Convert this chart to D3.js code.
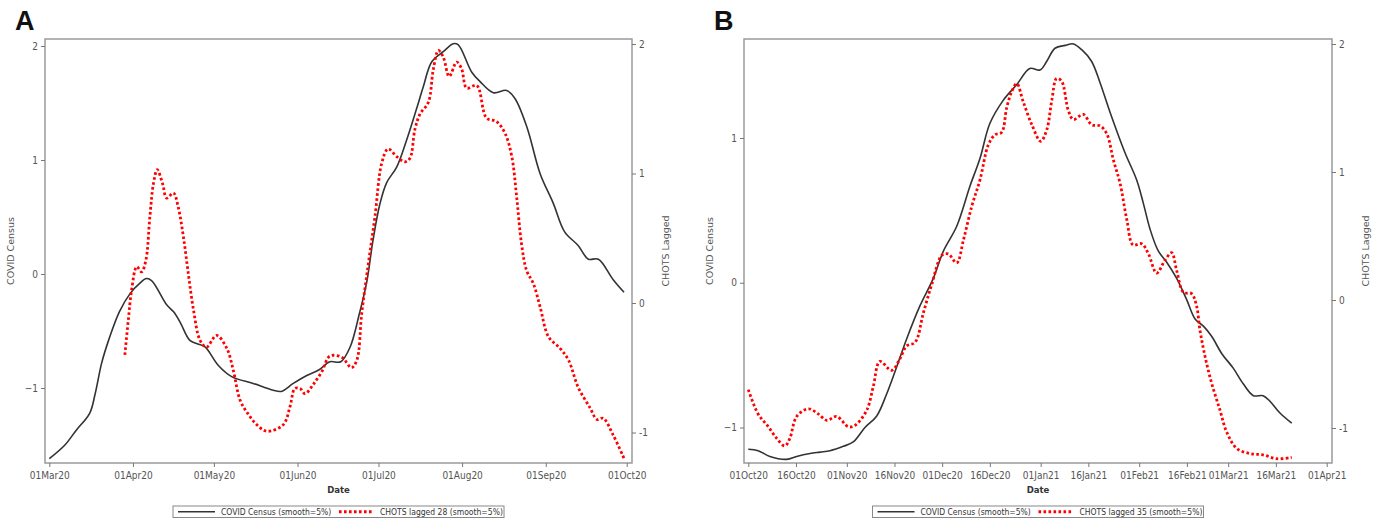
<!DOCTYPE html>
<html>
<head>
<meta charset="UTF-8" />
<title>COVID Census vs CHOTS</title>
<style>
  body { margin: 0; background: #fff; }
  svg { display: block; }
  .tick text { font-family: "Liberation Sans Narrow", "DejaVu Sans Condensed", sans-serif; font-size: 10px; fill: #555; }
</style>
</head>
<body>
<svg width="1381" height="519"></svg>

<script src="https://cdn.jsdelivr.net/npm/d3@7"></script>
<script>
  // Panel A: day offsets from 01Mar20
  const censusA_day = [0, 5.8, 10, 15, 17, 19.4, 22, 26, 30, 33.6, 36, 38, 43.5, 46, 48.4, 52, 54.6, 57.7, 62.6, 67.6, 75.6, 83, 86, 90.4, 95.4, 100, 104, 108, 111.5, 115, 117.6, 120, 122.6, 125, 128.8, 132.5, 136, 138.6, 141.7, 146, 149.7, 151.6, 156.6, 159.6, 164.6, 169.5, 172.6, 177, 181.9, 186.8, 191, 196, 199.8, 203.5, 209, 213];
  const censusA_val = [-1.62, -1.50, -1.37, -1.22, -1.05, -0.78, -0.58, -0.33, -0.17, -0.08, -0.04, -0.06, -0.27, -0.33, -0.42, -0.58, -0.61, -0.64, -0.80, -0.90, -0.96, -1.02, -1.03, -0.96, -0.89, -0.84, -0.77, -0.77, -0.64, -0.34, -0.08, 0.30, 0.62, 0.80, 0.94, 1.18, 1.44, 1.64, 1.86, 1.95, 2.02, 2.01, 1.77, 1.69, 1.59, 1.61, 1.54, 1.29, 0.88, 0.62, 0.37, 0.25, 0.13, 0.13, -0.05, -0.16];

  const chotsA_day = [28, 29.3, 30.5, 32.4, 34.2, 35.8, 37.3, 38.6, 40, 42, 43.5, 46, 47.8, 49.7, 51.5, 53.4, 55.9, 58.3, 62, 65.8, 68.2, 70.7, 73.8, 76.9, 80.6, 86.7, 89.2, 91, 92.9, 94.8, 97.8, 101, 104, 108.5, 112, 114, 115.8, 118.3, 120.7, 123.2, 125.6, 128.8, 131.8, 133.7, 135.5, 137.4, 140.5, 142.3, 144.2, 146, 148.2, 151, 152.8, 154.7, 158.4, 162, 165.8, 168.9, 171.4, 173.2, 175, 176.9, 179.4, 181.9, 185, 189.3, 192.4, 196, 200.4, 203, 205.3, 209, 213];
  const chotsA_val = [-0.40, -0.13, 0.10, 0.28, 0.24, 0.33, 0.67, 0.92, 1.03, 0.92, 0.81, 0.85, 0.74, 0.51, 0.23, -0.05, -0.29, -0.34, -0.25, -0.35, -0.52, -0.75, -0.86, -0.94, -0.99, -0.94, -0.80, -0.66, -0.66, -0.70, -0.63, -0.53, -0.41, -0.42, -0.50, -0.44, -0.08, 0.31, 0.67, 1.08, 1.19, 1.13, 1.09, 1.12, 1.34, 1.46, 1.55, 1.80, 1.95, 1.90, 1.75, 1.86, 1.81, 1.66, 1.68, 1.43, 1.40, 1.31, 1.13, 0.82, 0.46, 0.25, 0.15, -0.03, -0.26, -0.35, -0.44, -0.65, -0.81, -0.90, -0.89, -1.02, -1.20];

  // Panel B: day offsets from 01Oct20
  const censusB_day = [0, 3.1, 6.8, 12.1, 15.2, 19.4, 22.6, 25.7, 29.9, 33, 36.7, 40.4, 43.5, 46.7, 49.8, 54, 58.2, 61.4, 65.6, 69.8, 72.9, 76, 80.2, 84.5, 88.6, 91.8, 93.9, 96.5, 99.7, 102.3, 104.9, 108, 110.7, 113.8, 118.5, 122.2, 124.3, 126.4, 129, 131.7, 134.8, 138, 140.6, 143.2, 145.8, 149, 152.6, 155.8, 158.9, 162, 164.2, 167.3, 171];
  const censusB_val = [-1.15, -1.16, -1.20, -1.22, -1.20, -1.18, -1.17, -1.16, -1.13, -1.10, -1.00, -0.92, -0.77, -0.58, -0.39, -0.16, 0.03, 0.22, 0.39, 0.67, 0.86, 1.10, 1.26, 1.37, 1.48, 1.47, 1.53, 1.62, 1.64, 1.65, 1.61, 1.53, 1.38, 1.18, 0.90, 0.71, 0.55, 0.37, 0.22, 0.14, 0.03, -0.12, -0.25, -0.30, -0.37, -0.49, -0.59, -0.70, -0.78, -0.78, -0.82, -0.90, -0.97];

  const chotsB_day = [0, 3.1, 6.3, 8.9, 11.5, 13.1, 15.2, 18.9, 22, 24.7, 27.8, 31.5, 33.6, 37.3, 39.3, 41.4, 45.1, 47.7, 49.8, 52.5, 55.1, 57.7, 60.9, 62.9, 65.6, 67.7, 70.3, 72.9, 75.5, 77.6, 79.7, 81.3, 82.9, 84.5, 86.5, 89.2, 92, 93.9, 95.5, 97, 98.6, 100.7, 102.3, 105.4, 108, 110.7, 112.8, 114.9, 117, 119.1, 121.1, 123.8, 125.9, 128.5, 131.1, 133.2, 134.8, 136.9, 139.5, 141.1, 142.1, 143.7, 145.8, 148.4, 150.5, 153.7, 157.9, 162, 166.3, 171];
  const chotsB_val = [-0.70, -0.89, -0.99, -1.08, -1.14, -1.08, -0.91, -0.85, -0.89, -0.94, -0.91, -0.99, -0.98, -0.86, -0.68, -0.48, -0.55, -0.46, -0.36, -0.33, -0.10, 0.12, 0.35, 0.36, 0.29, 0.47, 0.73, 0.94, 1.21, 1.29, 1.31, 1.50, 1.63, 1.69, 1.55, 1.37, 1.24, 1.33, 1.56, 1.73, 1.71, 1.48, 1.41, 1.45, 1.37, 1.36, 1.30, 1.09, 0.91, 0.63, 0.43, 0.44, 0.36, 0.21, 0.31, 0.37, 0.23, 0.06, 0.05, -0.05, -0.23, -0.44, -0.65, -0.86, -1.03, -1.16, -1.20, -1.21, -1.24, -1.23];

  // tick labels
  const ticksA_x = ["2020-03-01", "2020-04-01", "2020-05-01", "2020-06-01", "2020-07-01", "2020-08-01", "2020-09-01", "2020-10-01"];
  const ticksB_x = ["2020-10-01", "2020-10-16", "2020-11-01", "2020-11-16", "2020-12-01", "2020-12-16", "2021-01-01", "2021-01-16", "2021-02-01", "2021-02-16", "2021-03-01", "2021-03-16", "2021-04-01"];
  const ticksA_left = [-1, 0, 1, 2];
  const ticksB_left = [-1, 0, 1];
  const ticks_right = [-1, 0, 1, 2];

  const svg = d3.select("svg");
  const parse = d3.utcParse("%Y-%m-%d");
  const fmt = d3.utcFormat("%d%b%y");

  function toPoints(start, days, vals) {
    const s = parse(start);
    return days.map((d, i) => ({ date: d3.utcHour.offset(s, Math.round(d * 24)), v: vals[i] }));
  }

  function drawPanel(p) {
    const g = svg.append("g");

    const x = d3.scaleUtc().domain([parse(p.xTicks[0]), parse(p.xTicks[p.xTicks.length - 1])]).range(p.xRange);
    const yL = d3.scaleLinear().domain([-1, p.yLTicks[p.yLTicks.length - 1]]).range(p.yLRange);
    const yR = d3.scaleLinear().domain([-1, 2]).range(p.yRRange);

    // frame
    g.append("rect")
      .attr("x", p.left).attr("y", p.top)
      .attr("width", p.right - p.left).attr("height", p.bottom - p.top)
      .attr("fill", "none").attr("stroke", "#9a9a9a").attr("stroke-width", 1.5);

    const xAxis = g.append("g")
      .attr("transform", `translate(0,${p.bottom})`)
      .call(d3.axisBottom(x).tickValues(p.xTicks.map(parse)).tickFormat(fmt).tickSize(4).tickPadding(5));
    const left = g.append("g")
      .attr("transform", `translate(${p.left},0)`)
      .call(d3.axisLeft(yL).tickValues(p.yLTicks).tickFormat(d3.format("d")).tickSize(4).tickPadding(3));
    const right = g.append("g")
      .attr("transform", `translate(${p.right},0)`)
      .call(d3.axisRight(yR).tickValues(ticks_right).tickFormat(d => d < 0 ? "-" + Math.abs(d) : d).tickSize(4).tickPadding(3));
    [xAxis, left, right].forEach(a => {
      a.select(".domain").remove();
      a.selectAll(".tick line").attr("stroke", "#777");
    });

    const lineL = d3.line().x(d => x(d.date)).y(d => yL(d.v)).curve(d3.curveCatmullRom.alpha(0.5));
    const lineR = d3.line().x(d => x(d.date)).y(d => yR(d.v)).curve(d3.curveCatmullRom.alpha(0.5));

    g.append("path").datum(p.census)
      .attr("d", lineL).attr("fill", "none")
      .attr("stroke", "#333").attr("stroke-width", 1.6);
    g.append("path").datum(p.chots)
      .attr("d", lineR).attr("fill", "none")
      .attr("stroke", "#ff0000").attr("stroke-width", 2.8)
      .attr("stroke-dasharray", "2.6,2.4");

    // axis titles
    const midY = (p.top + p.bottom) / 2;
    g.append("text")
      .attr("transform", `translate(${p.left - 31},${midY}) rotate(-90)`)
      .attr("text-anchor", "middle")
      .attr("font-family", "DejaVu Sans, sans-serif").attr("font-size", 9.5).attr("fill", "#555")
      .text("COVID Census");
    g.append("text")
      .attr("transform", `translate(${p.right + 37},${midY}) rotate(-90)`)
      .attr("text-anchor", "middle")
      .attr("font-family", "DejaVu Sans, sans-serif").attr("font-size", 9.5).attr("fill", "#555")
      .text("CHOTS Lagged");
    const midX = (p.left + p.right) / 2;
    g.append("text")
      .attr("x", midX).attr("y", p.bottom + 30)
      .attr("text-anchor", "middle")
      .attr("font-family", "Liberation Sans Narrow, DejaVu Sans Condensed, sans-serif")
      .attr("font-size", 9.5).attr("font-weight", "bold").attr("fill", "#333")
      .text("Date");

    // panel letter
    g.append("text")
      .attr("x", p.left - 30).attr("y", 30)
      .attr("font-family", "Liberation Sans, Arial, sans-serif")
      .attr("font-size", 27).attr("font-weight", "bold").attr("fill", "#111")
      .text(p.letter);

    // legend
    const lg = g.append("g").attr("transform", `translate(${midX - 165.5},${p.bottom + 43})`);
    lg.append("rect").attr("width", 331).attr("height", 11.5)
      .attr("fill", "#fff").attr("stroke", "#888").attr("stroke-width", 1);
    lg.append("line").attr("x1", 5).attr("x2", 42).attr("y1", 5.75).attr("y2", 5.75)
      .attr("stroke", "#333").attr("stroke-width", 1.6);
    lg.append("text").attr("x", 48).attr("y", 8.8)
      .attr("font-family", "Liberation Sans Narrow, DejaVu Sans Condensed, sans-serif")
      .attr("font-size", 8.5).attr("fill", "#333")
      .text("COVID Census (smooth=5%)");
    lg.append("line").attr("x1", 166).attr("x2", 201).attr("y1", 5.75).attr("y2", 5.75)
      .attr("stroke", "#ff0000").attr("stroke-width", 2.8).attr("stroke-dasharray", "2.6,2.4");
    lg.append("text").attr("x", 207).attr("y", 8.8)
      .attr("font-family", "Liberation Sans Narrow, DejaVu Sans Condensed, sans-serif")
      .attr("font-size", 8.5).attr("fill", "#333")
      .text(p.chotsLabel);
  }

  drawPanel({
    letter: "A",
    left: 45, right: 632, top: 39, bottom: 463,
    xRange: [49.3, 626.7], yLRange: [388, 46], yRRange: [432.5, 44],
    xTicks: ticksA_x, yLTicks: ticksA_left,
    census: toPoints("2020-03-01", censusA_day, censusA_val),
    chots: toPoints("2020-03-01", chotsA_day, chotsA_val),
    chotsLabel: "CHOTS lagged 28 (smooth=5%)"
  });

  drawPanel({
    letter: "B",
    left: 744, right: 1332, top: 39, bottom: 463,
    xRange: [748.3, 1326.7], yLRange: [427.5, 138], yRRange: [428, 44],
    xTicks: ticksB_x, yLTicks: ticksB_left,
    census: toPoints("2020-10-01", censusB_day, censusB_val),
    chots: toPoints("2020-10-01", chotsB_day, chotsB_val),
    chotsLabel: "CHOTS lagged 35 (smooth=5%)"
  });
</script>
</body>
</html>
